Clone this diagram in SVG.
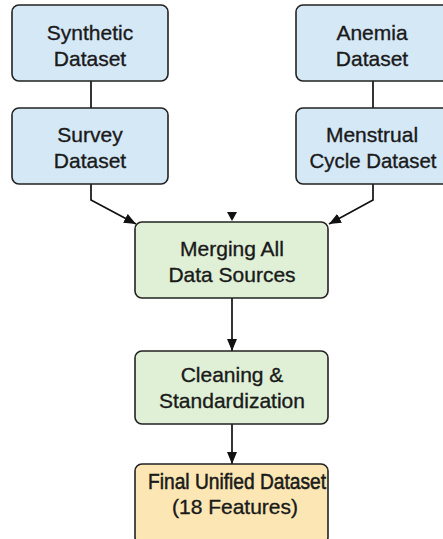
<svg xmlns="http://www.w3.org/2000/svg" width="443" height="539" viewBox="0 0 443 539">
<defs>
<style>
.box{stroke:#222;stroke-width:1.6}
.blue{fill:#d5e8f6}
.green{fill:#dff0d6}
.yellow{fill:#fce7b4}
.t{font-family:"Liberation Sans",Arial,sans-serif;font-size:21px;fill:#1a1a1a;stroke:#1a1a1a;stroke-width:0.35;text-anchor:middle}
.c{fill:none;stroke:#111;stroke-width:1.7}
</style>
<marker id="ahb" viewBox="0 0 12 10" refX="12" refY="5" markerWidth="12" markerHeight="10" markerUnits="userSpaceOnUse" orient="auto"><path d="M0,0 L12,5 L0,10 z" fill="#111"/></marker>
</defs>
<rect width="443" height="539" fill="#ffffff"/>
<g id="connectors">
<line class="c" x1="91" y1="81" x2="91" y2="108"/>
<line class="c" x1="373" y1="81" x2="373" y2="108"/>
<polyline class="c" points="91,184 91,200 136,224" marker-end="url(#ahb)"/>
<polyline class="c" points="373,184 373,200 329,224" marker-end="url(#ahb)"/>
<path d="M227,212 L237,212 L232,221 z" fill="#111"/>
<line class="c" x1="232" y1="298" x2="232" y2="351" marker-end="url(#ahb)"/>
<line class="c" x1="232" y1="424" x2="232" y2="464" marker-end="url(#ahb)"/>
</g>
<g id="synthetic">
<rect class="box blue" x="12" y="5" width="156" height="76" rx="7"/>
<text class="t" x="90" y="40">Synthetic</text>
<text class="t" x="90" y="66">Dataset</text>
</g>
<g id="anemia">
<rect class="box blue" x="296" y="5" width="156" height="76" rx="7"/>
<text class="t" x="372" y="40">Anemia</text>
<text class="t" x="372" y="66">Dataset</text>
</g>
<g id="survey">
<rect class="box blue" x="12" y="108" width="156" height="76" rx="7"/>
<text class="t" x="90" y="142">Survey</text>
<text class="t" x="90" y="168">Dataset</text>
</g>
<g id="menstrual">
<rect class="box blue" x="296" y="108" width="156" height="76" rx="7"/>
<text class="t" x="372" y="142">Menstrual</text>
<text class="t" x="373" y="168" textLength="127" lengthAdjust="spacingAndGlyphs">Cycle Dataset</text>
</g>
<g id="merging">
<rect class="box green" x="135" y="222" width="193" height="76" rx="7"/>
<text class="t" x="232" y="256">Merging All</text>
<text class="t" x="232" y="282">Data Sources</text>
</g>
<g id="cleaning">
<rect class="box green" x="135" y="351" width="193" height="73" rx="7"/>
<text class="t" x="232" y="382">Cleaning &amp;</text>
<text class="t" x="232" y="408">Standardization</text>
</g>
<g id="final">
<rect class="box yellow" x="135" y="464" width="193" height="80" rx="7"/>
<text class="t" x="237" y="489" style="font-size:22px;stroke-width:0.55" textLength="178" lengthAdjust="spacingAndGlyphs">Final Unified Dataset</text>
<text class="t" x="235" y="514">(18 Features)</text>
</g>
</svg>
